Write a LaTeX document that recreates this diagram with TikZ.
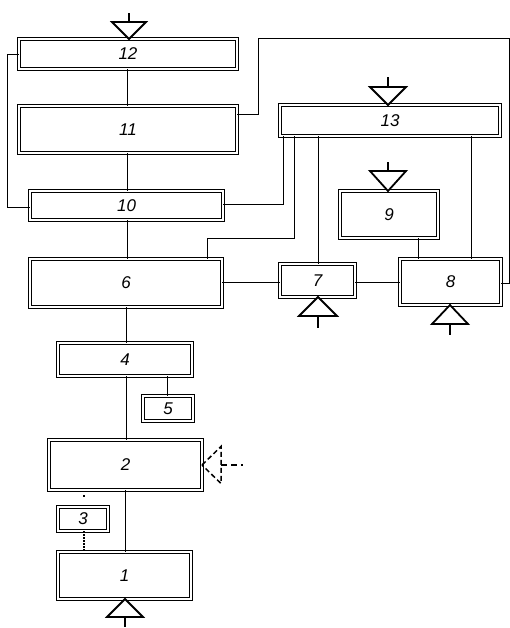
\documentclass[tikz,border=0pt]{standalone}
\usepackage{fontspec}
\setmainfont{Liberation Sans}
\usetikzlibrary{calc}
\begin{document}
\begin{tikzpicture}[x=1pt,y=-1pt,
  box/.style={draw, double, double distance=1.6pt, line width=1.1pt, inner sep=0pt, outer sep=0pt,
    font=\fontsize{17}{19}\selectfont\itshape},
  wire/.style={line width=0.9pt},
  tri/.style={line width=1.8pt, fill=white, line join=miter},
  stem/.style={line width=1.8pt}]
\useasboundingbox (0,0) rectangle (510,628);
% boxes
\node[box, minimum width=218pt, minimum height=30pt] (n12) at (128,54) {12};
\node[box, minimum width=218pt, minimum height=47pt] (n11) at (128,129.5) {11};
\node[box, minimum width=193pt, minimum height=29pt] (n10) at (126.5,205.5) {10};
\node[box, minimum width=192pt, minimum height=48pt] (n6) at (126,283) {6};
\node[box, minimum width=134pt, minimum height=33pt] (n4) at (125,359.5) {4};
\node[box, minimum width=50pt, minimum height=25pt] (n5) at (168,408.5) {5};
\node[box, minimum width=153pt, minimum height=50pt] (n2) at (125.5,465) {2};
\node[box, minimum width=50pt, minimum height=24pt] (n3) at (83,519) {3};
\node[box, minimum width=133pt, minimum height=47pt] (n1) at (124.5,575.5) {1};
\node[box, minimum width=220pt, minimum height=31pt] (n13) at (390,120.5) {13};
\node[box, minimum width=98pt, minimum height=47pt] (n9) at (389,214.5) {9};
\node[box, minimum width=75pt, minimum height=33pt] (n7) at (317.5,280.5) {7};
\node[box, minimum width=101pt, minimum height=46pt] (n8) at (450.5,282) {8};
% main spine
\draw[wire] (n12.south -| 127,0) -- (n11.north -| 127,0);
\draw[wire] (n11.south -| 127,0) -- (n10.north -| 127,0);
\draw[wire] (n10.south -| 127,0) -- (n6.north -| 127,0);
\draw[wire] (n6.south -| 126,0) -- (n4.north -| 126,0);
\draw[wire] (n4.south -| 126,0) -- (n2.north -| 126,0);
\draw[wire] (n2.south -| 125,0) -- (n1.north -| 125,0);
\draw[wire] (n4.south -| 167,0) -- (n5.north -| 167,0);
% loops
\draw[wire] (n12.west |- 0,54) -- (7,54) -- (7,207) -- (n10.west |- 0,207);
\draw[wire] (n11.east |- 0,114) -- (258,114) -- (258,38) -- (509,38) -- (509,283) -- (n8.east |- 0,283);
\draw[wire] (n13.south -| 283,0) -- (283,204) -- (n10.east |- 0,204);
\draw[wire] (n13.south -| 294,0) -- (294,238) -- (207,238) -- (n6.north -| 207,0);
\draw[wire] (n13.south -| 318,0) -- (n7.north -| 318,0);
\draw[wire] (n13.south -| 471,0) -- (n8.north -| 471,0);
\draw[wire] (n9.south -| 418,0) -- (n8.north -| 418,0);
\draw[wire] (n6.east |- 0,282) -- (n7.west |- 0,282);
\draw[wire] (n7.east |- 0,282) -- (n8.west |- 0,282);
% dotted links to 3
\draw[line width=1.3pt, dash pattern=on 0pt off 5pt on 1.5pt off 30pt] (n2.south -| 84,0) -- (n3.north -| 84,0);
\draw[line width=1.3pt, dash pattern=on 1.5pt off 1.5pt] (n3.south -| 84,0) -- (n1.north -| 84,0);
% input arrows (down)
\draw[tri] ($(n12.north)+(1,0)$) -- ++(-17,-17) -- ++(34,0) -- cycle;
\draw[stem] ($(n12.north)+(1,-17)$) -- ++(0,-9);
\draw[tri] ($(n13.north)+(-2,0)$) -- ++(-18,-18) -- ++(36,0) -- cycle;
\draw[stem] ($(n13.north)+(-2,-18)$) -- ++(0,-10);
\draw[tri] ($(n9.north)+(-1,0)$) -- ++(-18,-20) -- ++(36,0) -- cycle;
\draw[stem] ($(n9.north)+(-1,-20)$) -- ++(0,-9);
% input arrows (up)
\draw[tri] ($(n7.south)+(0.5,0)$) -- ++(-19,19) -- ++(38,0) -- cycle;
\draw[stem] ($(n7.south)+(0.5,19)$) -- ++(0,12);
\draw[tri] ($(n8.south)+(-0.5,0)$) -- ++(-18,19) -- ++(36,0) -- cycle;
\draw[stem] ($(n8.south)+(-0.5,19)$) -- ++(0,11);
\draw[tri] ($(n1.south)+(0.5,0)$) -- ++(-18,18) -- ++(36,0) -- cycle;
\draw[stem] ($(n1.south)+(0.5,18)$) -- ++(0,10);
% dashed input to 2
\draw[line width=1.5pt, dash pattern=on 5pt off 3pt] (n2.east) -- ++(19,-18.5) -- ++(0,37) -- cycle;
\draw[line width=1.5pt, dash pattern=on 6pt off 4pt] ($(n2.east)+(19,0)$) -- ++(22,0);
\end{tikzpicture}
\end{document}
